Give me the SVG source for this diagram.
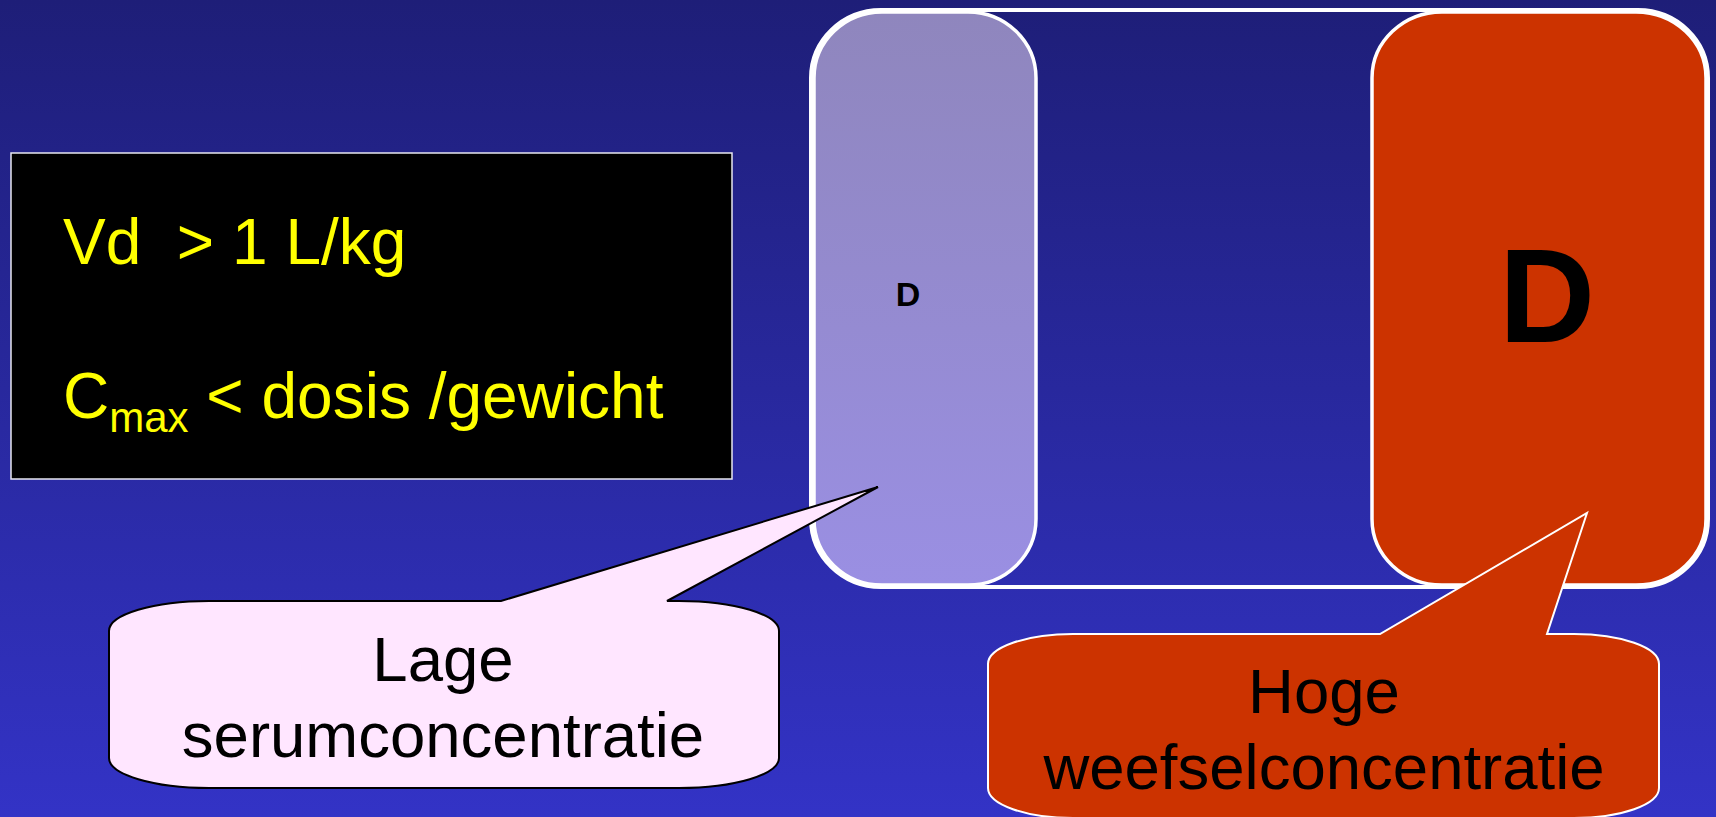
<svg xmlns="http://www.w3.org/2000/svg" width="1716" height="817" viewBox="0 0 1716 817">
  <defs>
    <linearGradient id="bg" x1="0" y1="0" x2="0" y2="1">
      <stop offset="0" stop-color="#1e1e78"/>
      <stop offset="1" stop-color="#3333c6"/>
    </linearGradient>
    <linearGradient id="lav" x1="0" y1="0" x2="0" y2="1">
      <stop offset="0" stop-color="#8f86bd"/>
      <stop offset="1" stop-color="#9a8fe3"/>
    </linearGradient>
  </defs>
  <style>
    .t { font-family: "Liberation Sans", Arial, sans-serif; }
    .y { fill: #ffff00; font-size: 64px; }
    .c { fill: #000000; font-size: 63.5px; text-anchor: middle; }
    .d { fill: #000000; font-weight: bold; text-anchor: middle; }
  </style>
  <rect x="0" y="0" width="1716" height="817" fill="url(#bg)"/>

  <g id="info-box">
    <rect x="11" y="153" width="721" height="326" fill="#000000" stroke="#e8e8f0" stroke-width="1.5"/>
    <text class="t y" x="63" y="264" xml:space="preserve">Vd  &gt; 1 L/kg</text>
    <text class="t y" x="63" y="418">C<tspan font-size="42" dy="14">max</tspan><tspan dy="-14"> &lt; dosis /gewicht</tspan></text>
  </g>

  <g id="compartments">
    <rect x="811" y="10" width="897" height="577" rx="70" ry="68" fill="none" stroke="#ffffff" stroke-width="4"/>
  </g>

  <g id="serum">
    <rect x="814" y="12" width="222" height="573" rx="68" ry="66" fill="url(#lav)" stroke="#ffffff" stroke-width="3.5"/>
    <text class="t d" x="908" y="306" font-size="34">D</text>
  </g>

  <g id="weefsel">
    <rect x="1372" y="12" width="334" height="573" rx="70" ry="66" fill="#cc3300" stroke="#ffffff" stroke-width="3.5"/>
    <text class="t d" x="1547" y="342" font-size="133">D</text>
  </g>

  <g id="callout-serum">
    <path d="M 209 601 L 501 601 L 878 487 L 667 601 L 679 601 A 100 30 0 0 1 779 631 L 779 758 A 100 30 0 0 1 679 788 L 209 788 A 100 30 0 0 1 109 758 L 109 631 A 100 30 0 0 1 209 601 Z" fill="#ffe6ff" stroke="#000000" stroke-width="2"/>
    <text class="t c" x="443" y="681">Lage</text>
    <text class="t c" x="443" y="757">serumconcentratie</text>
  </g>

  <g id="callout-weefsel">
    <path d="M 1073 634 L 1380 634 L 1587 513 L 1547 634 L 1574 634 A 85 30 0 0 1 1659 664 L 1659 788 A 85 30 0 0 1 1574 818 L 1073 818 A 85 30 0 0 1 988 788 L 988 664 A 85 30 0 0 1 1073 634 Z" fill="#cc3300" stroke="#ffffff" stroke-width="2"/>
    <text class="t c" x="1324" y="713">Hoge</text>
    <text class="t c" x="1324" y="789">weefselconcentratie</text>
  </g>
</svg>
